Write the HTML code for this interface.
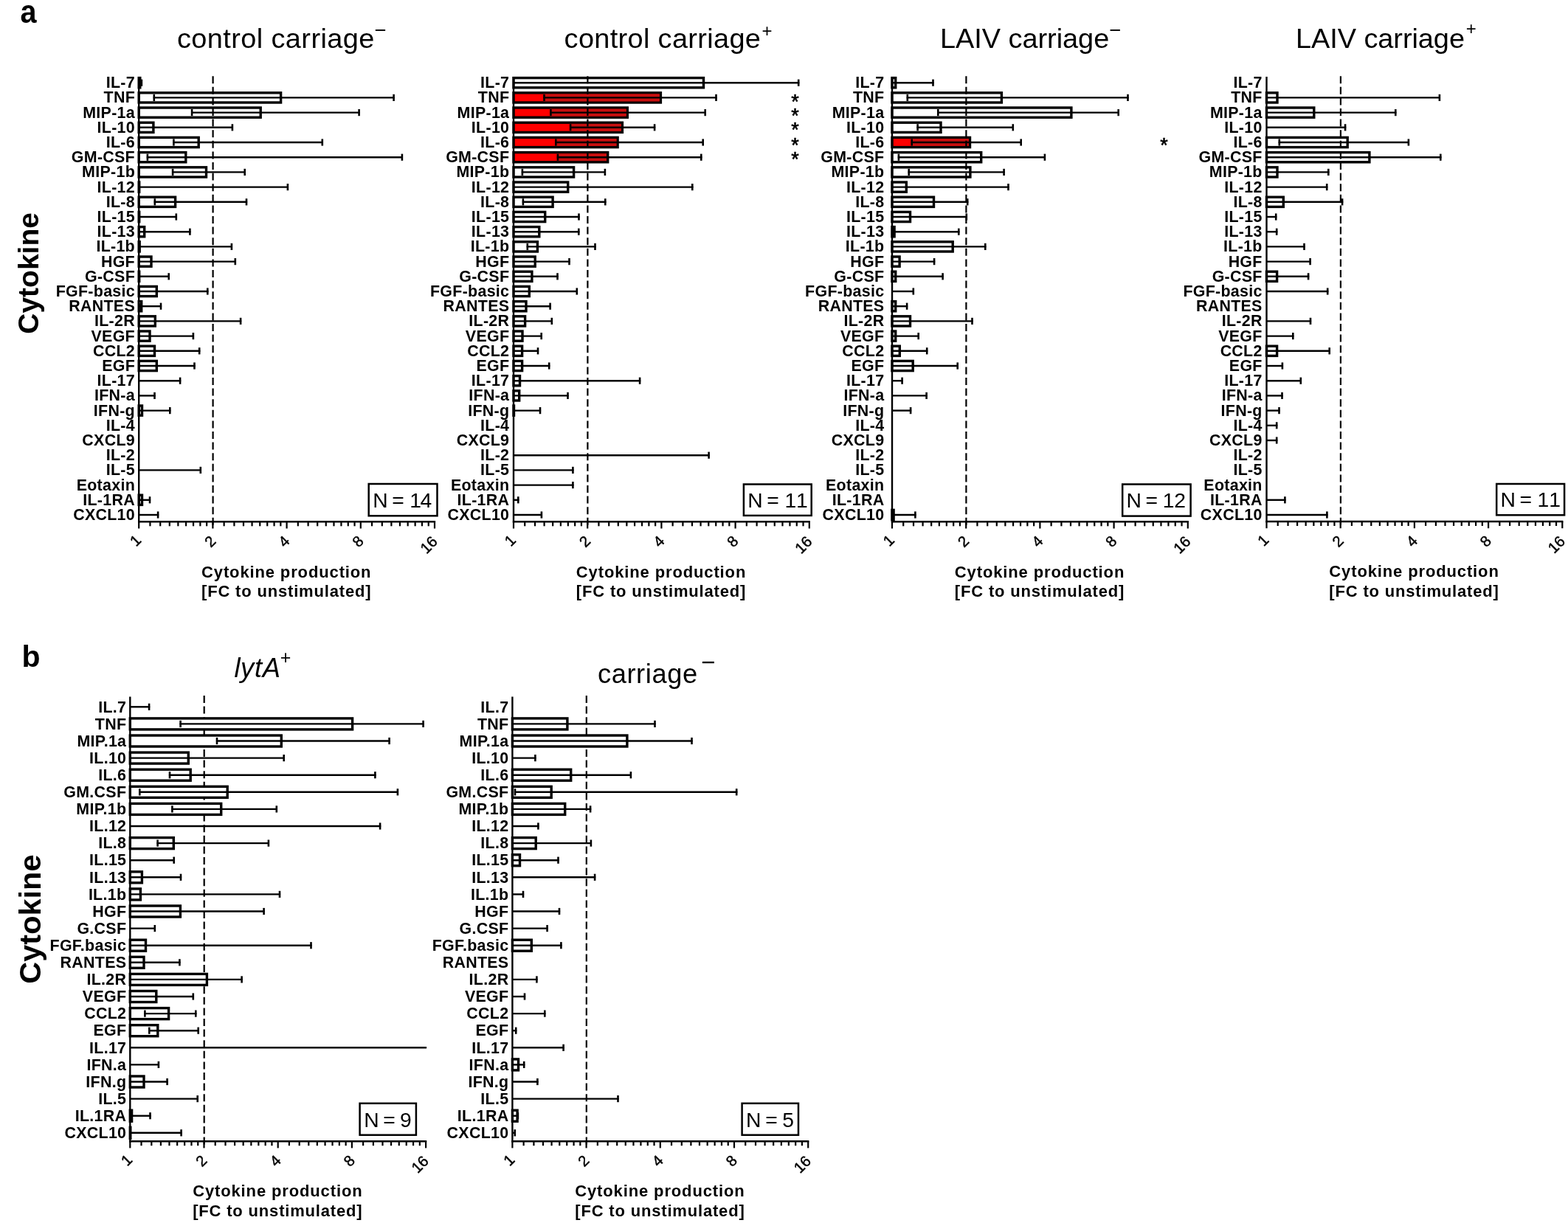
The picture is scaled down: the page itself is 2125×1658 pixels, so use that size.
<!DOCTYPE html>
<html><head><meta charset="utf-8"><title>Cytokine production figure</title>
<style>html,body{margin:0;padding:0;background:#fff;overflow:hidden;width:2125px;height:1658px}svg{display:block}</style>
</head><body>
<svg width="2125" height="1658" viewBox="0 0 2125 1658">
<style>
text{font-family:'Liberation Sans', Arial, Helvetica, sans-serif;fill:#000}
.lab{font-size:21.4px;font-weight:bold;text-anchor:end;letter-spacing:0.3px}
.tl{font-size:20.5px;text-anchor:middle;dominant-baseline:central;stroke:#000;stroke-width:0.45px}
.xt{font-size:22px;font-weight:bold;text-anchor:middle}
.nt{font-size:28.3px}
.ti{font-size:36.3px}
.sup{text-anchor:middle}
.bar{fill:#fff;stroke:#000;stroke-width:3.4}
.barr{fill:#f00;stroke:#000;stroke-width:3.4}
.wh{stroke:#000;stroke-width:2.4}
.cap{stroke:#000;stroke-width:2.6}
.ax{stroke:#000;stroke-width:2.4}
.tk{stroke:#000;stroke-width:2.2}
.dash{stroke:#000;stroke-width:2.2;stroke-dasharray:10 4.6}
.nb{fill:none;stroke:#000;stroke-width:2.5}
.ast{font-size:27px;text-anchor:middle;stroke:#000;stroke-width:0.6px}
</style>
<rect width="2125" height="1658" fill="#fff"/>
<text transform="translate(27.6 31.2) scale(0.9 1)" style="font-size:44px;font-weight:bold">a</text>
<text x="29.5" y="903.5" style="font-size:41px;font-weight:bold">b</text>
<text transform="translate(51.9 370.4) rotate(-90)" style="font-size:39px;font-weight:bold;text-anchor:middle">Cytokine</text>
<text transform="translate(55.1 1246.1) rotate(-90)" style="font-size:41.5px;font-weight:bold;text-anchor:middle">Cytokine</text>
<text transform="translate(240 64.8) scale(1.045 1)" class="ti" style="letter-spacing:0.38px">control carriage</text>
<text x="515.35" y="49.5" class="sup" style="font-size:27.5px">−</text>
<text transform="translate(764.6 64.6) scale(1.045 1)" class="ti" style="letter-spacing:0.32px">control carriage</text>
<text x="1039.6" y="50" class="sup" style="font-size:24px">+</text>
<text transform="translate(1274 64.8) scale(1.045 1)" class="ti" style="letter-spacing:-0.04px">LAIV carriage</text>
<text x="1511" y="49.5" class="sup" style="font-size:27.5px">−</text>
<text transform="translate(1755.9 64.8) scale(1.045 1)" class="ti" style="letter-spacing:-0.05px">LAIV carriage</text>
<text x="1993.7" y="47" class="sup" style="font-size:24px">+</text>
<text x="317.4" y="918.4" class="ti" style="font-style:italic;letter-spacing:0.67px">lytA</text>
<text x="387" y="900" class="sup" style="font-size:25px">+</text>
<text x="809.9" y="926.2" class="ti" style="letter-spacing:0.6px">carriage</text>
<text x="959.6" y="909.4" class="sup" style="font-size:33px">−</text>
<text x="183" y="119.1" class="lab">IL-7</text>
<text x="183" y="139.3" class="lab">TNF</text>
<text x="183" y="159.5" class="lab">MIP-1a</text>
<text x="183" y="179.7" class="lab">IL-10</text>
<text x="183" y="199.9" class="lab">IL-6</text>
<text x="183" y="220.1" class="lab">GM-CSF</text>
<text x="183" y="240.3" class="lab">MIP-1b</text>
<text x="183" y="260.5" class="lab">IL-12</text>
<text x="183" y="280.7" class="lab">IL-8</text>
<text x="183" y="300.9" class="lab">IL-15</text>
<text x="183" y="321.1" class="lab">IL-13</text>
<text x="183" y="341.3" class="lab">IL-1b</text>
<text x="183" y="361.5" class="lab">HGF</text>
<text x="183" y="381.7" class="lab">G-CSF</text>
<text x="183" y="401.9" class="lab">FGF-basic</text>
<text x="183" y="422.1" class="lab">RANTES</text>
<text x="183" y="442.3" class="lab">IL-2R</text>
<text x="183" y="462.5" class="lab">VEGF</text>
<text x="183" y="482.7" class="lab">CCL2</text>
<text x="183" y="502.9" class="lab">EGF</text>
<text x="183" y="523.1" class="lab">IL-17</text>
<text x="183" y="543.3" class="lab">IFN-a</text>
<text x="183" y="563.5" class="lab">IFN-g</text>
<text x="183" y="583.7" class="lab">IL-4</text>
<text x="183" y="603.9" class="lab">CXCL9</text>
<text x="183" y="624.1" class="lab">IL-2</text>
<text x="183" y="644.3" class="lab">IL-5</text>
<text x="183" y="664.5" class="lab">Eotaxin</text>
<text x="183" y="684.7" class="lab">IL-1RA</text>
<text x="183" y="704.9" class="lab">CXCL10</text>
<rect x="188.2" y="105.6" width="1.6" height="13.2" class="bar"/>
<line x1="188.2" y1="112.2" x2="193" y2="112.2" class="wh"/>
<line x1="191.9" y1="107.6" x2="191.9" y2="116.8" class="cap"/>
<rect x="188.2" y="125.8" width="192.4" height="13.2" class="bar"/>
<line x1="207.7" y1="132.4" x2="534.7" y2="132.4" class="wh"/>
<line x1="533.6" y1="127.8" x2="533.6" y2="137" class="cap"/>
<line x1="208.8" y1="127.8" x2="208.8" y2="137" class="cap"/>
<rect x="188.2" y="146" width="165" height="13.2" class="bar"/>
<line x1="259" y1="152.6" x2="487.7" y2="152.6" class="wh"/>
<line x1="486.6" y1="148" x2="486.6" y2="157.2" class="cap"/>
<line x1="260.1" y1="148" x2="260.1" y2="157.2" class="cap"/>
<rect x="188.2" y="166.2" width="19.7" height="13.2" class="bar"/>
<line x1="188.2" y1="172.8" x2="316" y2="172.8" class="wh"/>
<line x1="314.9" y1="168.2" x2="314.9" y2="177.4" class="cap"/>
<rect x="188.2" y="186.4" width="81" height="13.2" class="bar"/>
<line x1="234.3" y1="193" x2="437.9" y2="193" class="wh"/>
<line x1="436.8" y1="188.4" x2="436.8" y2="197.6" class="cap"/>
<line x1="235.4" y1="188.4" x2="235.4" y2="197.6" class="cap"/>
<rect x="188.2" y="206.6" width="63.6" height="13.2" class="bar"/>
<line x1="198.8" y1="213.2" x2="546" y2="213.2" class="wh"/>
<line x1="544.9" y1="208.6" x2="544.9" y2="217.8" class="cap"/>
<line x1="199.9" y1="208.6" x2="199.9" y2="217.8" class="cap"/>
<rect x="188.2" y="226.8" width="91.3" height="13.2" class="bar"/>
<line x1="233" y1="233.4" x2="332.8" y2="233.4" class="wh"/>
<line x1="331.7" y1="228.8" x2="331.7" y2="238" class="cap"/>
<line x1="234.1" y1="228.8" x2="234.1" y2="238" class="cap"/>
<rect x="188.2" y="247" width="0.5" height="13.2" class="bar"/>
<line x1="188.2" y1="253.6" x2="391" y2="253.6" class="wh"/>
<line x1="389.9" y1="249" x2="389.9" y2="258.2" class="cap"/>
<rect x="188.2" y="267.2" width="49.4" height="13.2" class="bar"/>
<line x1="208.7" y1="273.8" x2="335.1" y2="273.8" class="wh"/>
<line x1="334" y1="269.2" x2="334" y2="278.4" class="cap"/>
<line x1="209.8" y1="269.2" x2="209.8" y2="278.4" class="cap"/>
<rect x="188.2" y="287.4" width="0.5" height="13.2" class="bar"/>
<line x1="188.2" y1="294" x2="239.9" y2="294" class="wh"/>
<line x1="238.8" y1="289.4" x2="238.8" y2="298.6" class="cap"/>
<rect x="188.2" y="307.6" width="7.5" height="13.2" class="bar"/>
<line x1="188.2" y1="314.2" x2="258.5" y2="314.2" class="wh"/>
<line x1="257.4" y1="309.6" x2="257.4" y2="318.8" class="cap"/>
<rect x="188.2" y="327.8" width="1" height="13.2" class="bar"/>
<line x1="188.2" y1="334.4" x2="315" y2="334.4" class="wh"/>
<line x1="313.9" y1="329.8" x2="313.9" y2="339" class="cap"/>
<rect x="188.2" y="348" width="16.8" height="13.2" class="bar"/>
<line x1="188.2" y1="354.6" x2="319.9" y2="354.6" class="wh"/>
<line x1="318.8" y1="350" x2="318.8" y2="359.2" class="cap"/>
<rect x="188.2" y="368.2" width="0.5" height="13.2" class="bar"/>
<line x1="188.2" y1="374.8" x2="229.8" y2="374.8" class="wh"/>
<line x1="228.7" y1="370.2" x2="228.7" y2="379.4" class="cap"/>
<rect x="188.2" y="388.4" width="24.1" height="13.2" class="bar"/>
<line x1="188.2" y1="395" x2="282.4" y2="395" class="wh"/>
<line x1="281.3" y1="390.4" x2="281.3" y2="399.6" class="cap"/>
<rect x="188.2" y="408.6" width="3.5" height="13.2" class="bar"/>
<line x1="188.2" y1="415.2" x2="219.1" y2="415.2" class="wh"/>
<line x1="218" y1="410.6" x2="218" y2="419.8" class="cap"/>
<rect x="188.2" y="428.8" width="22.1" height="13.2" class="bar"/>
<line x1="188.2" y1="435.4" x2="327.2" y2="435.4" class="wh"/>
<line x1="326.1" y1="430.8" x2="326.1" y2="440" class="cap"/>
<rect x="188.2" y="449" width="14.8" height="13.2" class="bar"/>
<line x1="188.2" y1="455.6" x2="263" y2="455.6" class="wh"/>
<line x1="261.9" y1="451" x2="261.9" y2="460.2" class="cap"/>
<rect x="188.2" y="469.2" width="21.3" height="13.2" class="bar"/>
<line x1="188.2" y1="475.8" x2="271.3" y2="475.8" class="wh"/>
<line x1="270.2" y1="471.2" x2="270.2" y2="480.4" class="cap"/>
<rect x="188.2" y="489.4" width="24.1" height="13.2" class="bar"/>
<line x1="188.2" y1="496" x2="264.6" y2="496" class="wh"/>
<line x1="263.5" y1="491.4" x2="263.5" y2="500.6" class="cap"/>
<line x1="188.2" y1="516.2" x2="245.2" y2="516.2" class="wh"/>
<line x1="244.1" y1="511.6" x2="244.1" y2="520.8" class="cap"/>
<line x1="188.2" y1="536.4" x2="210.6" y2="536.4" class="wh"/>
<line x1="209.5" y1="531.8" x2="209.5" y2="541" class="cap"/>
<rect x="188.2" y="550" width="4.3" height="13.2" class="bar"/>
<line x1="188.2" y1="556.6" x2="231.4" y2="556.6" class="wh"/>
<line x1="230.3" y1="552" x2="230.3" y2="561.2" class="cap"/>
<line x1="188.2" y1="637.4" x2="272.9" y2="637.4" class="wh"/>
<line x1="271.8" y1="632.8" x2="271.8" y2="642" class="cap"/>
<rect x="188.2" y="671.2" width="4.3" height="13.2" class="bar"/>
<line x1="188.2" y1="677.8" x2="204.1" y2="677.8" class="wh"/>
<line x1="203" y1="673.2" x2="203" y2="682.4" class="cap"/>
<line x1="188.2" y1="698" x2="215.2" y2="698" class="wh"/>
<line x1="214.1" y1="693.4" x2="214.1" y2="702.6" class="cap"/>
<line x1="288.6" y1="103.2" x2="288.6" y2="711.8" class="dash"/>
<line x1="188.2" y1="104" x2="188.2" y2="708.5" class="ax"/>
<line x1="187.1" y1="707.3" x2="590.1" y2="707.3" class="ax"/>
<line x1="188.2" y1="707.3" x2="188.2" y2="716.5" class="tk"/>
<line x1="203.43" y1="707.3" x2="203.43" y2="713.3" class="tk"/>
<line x1="217.21" y1="707.3" x2="217.21" y2="713.3" class="tk"/>
<line x1="229.79" y1="707.3" x2="229.79" y2="713.3" class="tk"/>
<line x1="241.36" y1="707.3" x2="241.36" y2="713.3" class="tk"/>
<line x1="252.07" y1="707.3" x2="252.07" y2="713.3" class="tk"/>
<line x1="262.04" y1="707.3" x2="262.04" y2="713.3" class="tk"/>
<line x1="271.37" y1="707.3" x2="271.37" y2="713.3" class="tk"/>
<line x1="280.14" y1="707.3" x2="280.14" y2="713.3" class="tk"/>
<line x1="288.4" y1="707.3" x2="288.4" y2="716.5" class="tk"/>
<line x1="303.63" y1="707.3" x2="303.63" y2="713.3" class="tk"/>
<line x1="317.41" y1="707.3" x2="317.41" y2="713.3" class="tk"/>
<line x1="329.99" y1="707.3" x2="329.99" y2="713.3" class="tk"/>
<line x1="341.56" y1="707.3" x2="341.56" y2="713.3" class="tk"/>
<line x1="352.27" y1="707.3" x2="352.27" y2="713.3" class="tk"/>
<line x1="362.24" y1="707.3" x2="362.24" y2="713.3" class="tk"/>
<line x1="371.57" y1="707.3" x2="371.57" y2="713.3" class="tk"/>
<line x1="380.34" y1="707.3" x2="380.34" y2="713.3" class="tk"/>
<line x1="388.6" y1="707.3" x2="388.6" y2="716.5" class="tk"/>
<line x1="403.83" y1="707.3" x2="403.83" y2="713.3" class="tk"/>
<line x1="417.61" y1="707.3" x2="417.61" y2="713.3" class="tk"/>
<line x1="430.19" y1="707.3" x2="430.19" y2="713.3" class="tk"/>
<line x1="441.76" y1="707.3" x2="441.76" y2="713.3" class="tk"/>
<line x1="452.47" y1="707.3" x2="452.47" y2="713.3" class="tk"/>
<line x1="462.44" y1="707.3" x2="462.44" y2="713.3" class="tk"/>
<line x1="471.77" y1="707.3" x2="471.77" y2="713.3" class="tk"/>
<line x1="480.54" y1="707.3" x2="480.54" y2="713.3" class="tk"/>
<line x1="488.8" y1="707.3" x2="488.8" y2="716.5" class="tk"/>
<line x1="504.03" y1="707.3" x2="504.03" y2="713.3" class="tk"/>
<line x1="517.81" y1="707.3" x2="517.81" y2="713.3" class="tk"/>
<line x1="530.39" y1="707.3" x2="530.39" y2="713.3" class="tk"/>
<line x1="541.96" y1="707.3" x2="541.96" y2="713.3" class="tk"/>
<line x1="552.67" y1="707.3" x2="552.67" y2="713.3" class="tk"/>
<line x1="562.64" y1="707.3" x2="562.64" y2="713.3" class="tk"/>
<line x1="571.97" y1="707.3" x2="571.97" y2="713.3" class="tk"/>
<line x1="580.74" y1="707.3" x2="580.74" y2="713.3" class="tk"/>
<line x1="589" y1="707.3" x2="589" y2="716.5" class="tk"/>
<text transform="translate(183.2 732.5) rotate(-45)" class="tl">1</text>
<text transform="translate(284.4 733.6) rotate(-45)" class="tl">2</text>
<text transform="translate(384.6 733.6) rotate(-45)" class="tl">4</text>
<text transform="translate(484.8 733.6) rotate(-45)" class="tl">8</text>
<text transform="translate(580.7 738.3) rotate(-45)" class="tl">16</text>
<rect x="499.7" y="656" width="92.8" height="43.3" class="nb"/>
<text x="505.35 513.35 531.3 539.3 555.3 569.45" y="687.7" class="nt">N = 14</text>
<text x="387.8" y="782.5" class="xt" textLength="229.5" lengthAdjust="spacing">Cytokine production</text>
<text x="387.8" y="808.8" class="xt" textLength="229.5" lengthAdjust="spacing">[FC to unstimulated]</text>
<text x="690.3" y="119.1" class="lab">IL-7</text>
<text x="690.3" y="139.3" class="lab">TNF</text>
<text x="690.3" y="159.5" class="lab">MIP-1a</text>
<text x="690.3" y="179.7" class="lab">IL-10</text>
<text x="690.3" y="199.9" class="lab">IL-6</text>
<text x="690.3" y="220.1" class="lab">GM-CSF</text>
<text x="690.3" y="240.3" class="lab">MIP-1b</text>
<text x="690.3" y="260.5" class="lab">IL-12</text>
<text x="690.3" y="280.7" class="lab">IL-8</text>
<text x="690.3" y="300.9" class="lab">IL-15</text>
<text x="690.3" y="321.1" class="lab">IL-13</text>
<text x="690.3" y="341.3" class="lab">IL-1b</text>
<text x="690.3" y="361.5" class="lab">HGF</text>
<text x="690.3" y="381.7" class="lab">G-CSF</text>
<text x="690.3" y="401.9" class="lab">FGF-basic</text>
<text x="690.3" y="422.1" class="lab">RANTES</text>
<text x="690.3" y="442.3" class="lab">IL-2R</text>
<text x="690.3" y="462.5" class="lab">VEGF</text>
<text x="690.3" y="482.7" class="lab">CCL2</text>
<text x="690.3" y="502.9" class="lab">EGF</text>
<text x="690.3" y="523.1" class="lab">IL-17</text>
<text x="690.3" y="543.3" class="lab">IFN-a</text>
<text x="690.3" y="563.5" class="lab">IFN-g</text>
<text x="690.3" y="583.7" class="lab">IL-4</text>
<text x="690.3" y="603.9" class="lab">CXCL9</text>
<text x="690.3" y="624.1" class="lab">IL-2</text>
<text x="690.3" y="644.3" class="lab">IL-5</text>
<text x="690.3" y="664.5" class="lab">Eotaxin</text>
<text x="690.3" y="684.7" class="lab">IL-1RA</text>
<text x="690.3" y="704.9" class="lab">CXCL10</text>
<rect x="696" y="105.6" width="257.5" height="13.2" class="bar"/>
<line x1="696" y1="112.2" x2="1083.3" y2="112.2" class="wh"/>
<line x1="1082.2" y1="107.6" x2="1082.2" y2="116.8" class="cap"/>
<rect x="696" y="125.8" width="199.4" height="13.2" class="barr"/>
<rect x="736.4" y="127.5" width="157.3" height="9.8" fill="#c81010"/>
<line x1="736.4" y1="132.4" x2="971.6" y2="132.4" class="wh"/>
<line x1="970.5" y1="127.8" x2="970.5" y2="137" class="cap"/>
<line x1="737.5" y1="127.8" x2="737.5" y2="137" class="cap"/>
<rect x="696" y="146" width="154.3" height="13.2" class="barr"/>
<rect x="745.3" y="147.7" width="103.3" height="9.8" fill="#c81010"/>
<line x1="745.3" y1="152.6" x2="956.8" y2="152.6" class="wh"/>
<line x1="955.7" y1="148" x2="955.7" y2="157.2" class="cap"/>
<line x1="746.4" y1="148" x2="746.4" y2="157.2" class="cap"/>
<rect x="696" y="166.2" width="147.4" height="13.2" class="barr"/>
<rect x="772" y="167.9" width="69.7" height="9.8" fill="#c81010"/>
<line x1="772" y1="172.8" x2="888.2" y2="172.8" class="wh"/>
<line x1="887.1" y1="168.2" x2="887.1" y2="177.4" class="cap"/>
<line x1="773.1" y1="168.2" x2="773.1" y2="177.4" class="cap"/>
<rect x="696" y="186.4" width="141.1" height="13.2" class="barr"/>
<rect x="752.2" y="188.1" width="83.2" height="9.8" fill="#c81010"/>
<line x1="752.2" y1="193" x2="953.8" y2="193" class="wh"/>
<line x1="952.7" y1="188.4" x2="952.7" y2="197.6" class="cap"/>
<line x1="753.3" y1="188.4" x2="753.3" y2="197.6" class="cap"/>
<rect x="696" y="206.6" width="127.7" height="13.2" class="barr"/>
<rect x="754.8" y="208.3" width="67.2" height="9.8" fill="#c81010"/>
<line x1="754.8" y1="213.2" x2="951.4" y2="213.2" class="wh"/>
<line x1="950.3" y1="208.6" x2="950.3" y2="217.8" class="cap"/>
<line x1="755.9" y1="208.6" x2="755.9" y2="217.8" class="cap"/>
<rect x="696" y="226.8" width="81.6" height="13.2" class="bar"/>
<line x1="706.8" y1="233.4" x2="821" y2="233.4" class="wh"/>
<line x1="819.9" y1="228.8" x2="819.9" y2="238" class="cap"/>
<line x1="707.9" y1="228.8" x2="707.9" y2="238" class="cap"/>
<rect x="696" y="247" width="73.7" height="13.2" class="bar"/>
<line x1="696" y1="253.6" x2="939.4" y2="253.6" class="wh"/>
<line x1="938.3" y1="249" x2="938.3" y2="258.2" class="cap"/>
<rect x="696" y="267.2" width="53.1" height="13.2" class="bar"/>
<line x1="707.8" y1="273.8" x2="821.4" y2="273.8" class="wh"/>
<line x1="820.3" y1="269.2" x2="820.3" y2="278.4" class="cap"/>
<line x1="708.9" y1="269.2" x2="708.9" y2="278.4" class="cap"/>
<rect x="696" y="287.4" width="42.7" height="13.2" class="bar"/>
<line x1="696" y1="294" x2="785.6" y2="294" class="wh"/>
<line x1="784.5" y1="289.4" x2="784.5" y2="298.6" class="cap"/>
<rect x="696" y="307.6" width="34.8" height="13.2" class="bar"/>
<line x1="696" y1="314.2" x2="785.4" y2="314.2" class="wh"/>
<line x1="784.3" y1="309.6" x2="784.3" y2="318.8" class="cap"/>
<rect x="696" y="327.8" width="32.4" height="13.2" class="bar"/>
<line x1="713.7" y1="334.4" x2="807.6" y2="334.4" class="wh"/>
<line x1="806.5" y1="329.8" x2="806.5" y2="339" class="cap"/>
<line x1="714.8" y1="329.8" x2="714.8" y2="339" class="cap"/>
<rect x="696" y="348" width="29.2" height="13.2" class="bar"/>
<line x1="696" y1="354.6" x2="772.6" y2="354.6" class="wh"/>
<line x1="771.5" y1="350" x2="771.5" y2="359.2" class="cap"/>
<rect x="696" y="368.2" width="24.9" height="13.2" class="bar"/>
<line x1="696" y1="374.8" x2="756.6" y2="374.8" class="wh"/>
<line x1="755.5" y1="370.2" x2="755.5" y2="379.4" class="cap"/>
<rect x="696" y="388.4" width="21.3" height="13.2" class="bar"/>
<line x1="696" y1="395" x2="782.9" y2="395" class="wh"/>
<line x1="781.8" y1="390.4" x2="781.8" y2="399.6" class="cap"/>
<rect x="696" y="408.6" width="17" height="13.2" class="bar"/>
<line x1="696" y1="415.2" x2="746.7" y2="415.2" class="wh"/>
<line x1="745.6" y1="410.6" x2="745.6" y2="419.8" class="cap"/>
<rect x="696" y="428.8" width="15.6" height="13.2" class="bar"/>
<line x1="696" y1="435.4" x2="748.9" y2="435.4" class="wh"/>
<line x1="747.8" y1="430.8" x2="747.8" y2="440" class="cap"/>
<rect x="696" y="449" width="12" height="13.2" class="bar"/>
<line x1="696" y1="455.6" x2="734.8" y2="455.6" class="wh"/>
<line x1="733.7" y1="451" x2="733.7" y2="460.2" class="cap"/>
<rect x="696" y="469.2" width="11.6" height="13.2" class="bar"/>
<line x1="696" y1="475.8" x2="730.1" y2="475.8" class="wh"/>
<line x1="729" y1="471.2" x2="729" y2="480.4" class="cap"/>
<rect x="696" y="489.4" width="11.6" height="13.2" class="bar"/>
<line x1="696" y1="496" x2="745.3" y2="496" class="wh"/>
<line x1="744.2" y1="491.4" x2="744.2" y2="500.6" class="cap"/>
<rect x="696" y="509.6" width="8.5" height="13.2" class="bar"/>
<line x1="696" y1="516.2" x2="868.2" y2="516.2" class="wh"/>
<line x1="867.1" y1="511.6" x2="867.1" y2="520.8" class="cap"/>
<rect x="696" y="529.8" width="7.7" height="13.2" class="bar"/>
<line x1="696" y1="536.4" x2="770.6" y2="536.4" class="wh"/>
<line x1="769.5" y1="531.8" x2="769.5" y2="541" class="cap"/>
<rect x="696" y="550" width="0.5" height="13.2" class="bar"/>
<line x1="696" y1="556.6" x2="733.1" y2="556.6" class="wh"/>
<line x1="732" y1="552" x2="732" y2="561.2" class="cap"/>
<line x1="696" y1="617.2" x2="961.7" y2="617.2" class="wh"/>
<line x1="960.6" y1="612.6" x2="960.6" y2="621.8" class="cap"/>
<line x1="696" y1="637.4" x2="777.5" y2="637.4" class="wh"/>
<line x1="776.4" y1="632.8" x2="776.4" y2="642" class="cap"/>
<line x1="696" y1="657.6" x2="777.5" y2="657.6" class="wh"/>
<line x1="776.4" y1="653" x2="776.4" y2="662.2" class="cap"/>
<line x1="696" y1="677.8" x2="703.4" y2="677.8" class="wh"/>
<line x1="702.3" y1="673.2" x2="702.3" y2="682.4" class="cap"/>
<line x1="696" y1="698" x2="735" y2="698" class="wh"/>
<line x1="733.9" y1="693.4" x2="733.9" y2="702.6" class="cap"/>
<line x1="796.4" y1="103.2" x2="796.4" y2="711.8" class="dash"/>
<line x1="696" y1="104" x2="696" y2="708.5" class="ax"/>
<line x1="694.9" y1="707.3" x2="1097.9" y2="707.3" class="ax"/>
<line x1="696" y1="707.3" x2="696" y2="716.5" class="tk"/>
<line x1="711.23" y1="707.3" x2="711.23" y2="713.3" class="tk"/>
<line x1="725.01" y1="707.3" x2="725.01" y2="713.3" class="tk"/>
<line x1="737.59" y1="707.3" x2="737.59" y2="713.3" class="tk"/>
<line x1="749.16" y1="707.3" x2="749.16" y2="713.3" class="tk"/>
<line x1="759.87" y1="707.3" x2="759.87" y2="713.3" class="tk"/>
<line x1="769.84" y1="707.3" x2="769.84" y2="713.3" class="tk"/>
<line x1="779.17" y1="707.3" x2="779.17" y2="713.3" class="tk"/>
<line x1="787.94" y1="707.3" x2="787.94" y2="713.3" class="tk"/>
<line x1="796.2" y1="707.3" x2="796.2" y2="716.5" class="tk"/>
<line x1="811.43" y1="707.3" x2="811.43" y2="713.3" class="tk"/>
<line x1="825.21" y1="707.3" x2="825.21" y2="713.3" class="tk"/>
<line x1="837.79" y1="707.3" x2="837.79" y2="713.3" class="tk"/>
<line x1="849.36" y1="707.3" x2="849.36" y2="713.3" class="tk"/>
<line x1="860.07" y1="707.3" x2="860.07" y2="713.3" class="tk"/>
<line x1="870.04" y1="707.3" x2="870.04" y2="713.3" class="tk"/>
<line x1="879.37" y1="707.3" x2="879.37" y2="713.3" class="tk"/>
<line x1="888.14" y1="707.3" x2="888.14" y2="713.3" class="tk"/>
<line x1="896.4" y1="707.3" x2="896.4" y2="716.5" class="tk"/>
<line x1="911.63" y1="707.3" x2="911.63" y2="713.3" class="tk"/>
<line x1="925.41" y1="707.3" x2="925.41" y2="713.3" class="tk"/>
<line x1="937.99" y1="707.3" x2="937.99" y2="713.3" class="tk"/>
<line x1="949.56" y1="707.3" x2="949.56" y2="713.3" class="tk"/>
<line x1="960.27" y1="707.3" x2="960.27" y2="713.3" class="tk"/>
<line x1="970.24" y1="707.3" x2="970.24" y2="713.3" class="tk"/>
<line x1="979.57" y1="707.3" x2="979.57" y2="713.3" class="tk"/>
<line x1="988.34" y1="707.3" x2="988.34" y2="713.3" class="tk"/>
<line x1="996.6" y1="707.3" x2="996.6" y2="716.5" class="tk"/>
<line x1="1011.83" y1="707.3" x2="1011.83" y2="713.3" class="tk"/>
<line x1="1025.61" y1="707.3" x2="1025.61" y2="713.3" class="tk"/>
<line x1="1038.19" y1="707.3" x2="1038.19" y2="713.3" class="tk"/>
<line x1="1049.76" y1="707.3" x2="1049.76" y2="713.3" class="tk"/>
<line x1="1060.47" y1="707.3" x2="1060.47" y2="713.3" class="tk"/>
<line x1="1070.44" y1="707.3" x2="1070.44" y2="713.3" class="tk"/>
<line x1="1079.77" y1="707.3" x2="1079.77" y2="713.3" class="tk"/>
<line x1="1088.54" y1="707.3" x2="1088.54" y2="713.3" class="tk"/>
<line x1="1096.8" y1="707.3" x2="1096.8" y2="716.5" class="tk"/>
<text transform="translate(691 732.5) rotate(-45)" class="tl">1</text>
<text transform="translate(792.2 733.6) rotate(-45)" class="tl">2</text>
<text transform="translate(892.4 733.6) rotate(-45)" class="tl">4</text>
<text transform="translate(992.6 733.6) rotate(-45)" class="tl">8</text>
<text transform="translate(1088.5 738.3) rotate(-45)" class="tl">16</text>
<rect x="1007.9" y="656.5" width="91.8" height="42.4" class="nb"/>
<text x="1013.25 1021.25 1039.3 1047.3 1063.5 1079.1" y="687.7" class="nt">N = 11</text>
<text x="895.6" y="782.5" class="xt" textLength="229.5" lengthAdjust="spacing">Cytokine production</text>
<text x="895.6" y="808.8" class="xt" textLength="229.5" lengthAdjust="spacing">[FC to unstimulated]</text>
<text x="1198.4" y="119.1" class="lab">IL-7</text>
<text x="1198.4" y="139.3" class="lab">TNF</text>
<text x="1198.4" y="159.5" class="lab">MIP-1a</text>
<text x="1198.4" y="179.7" class="lab">IL-10</text>
<text x="1198.4" y="199.9" class="lab">IL-6</text>
<text x="1198.4" y="220.1" class="lab">GM-CSF</text>
<text x="1198.4" y="240.3" class="lab">MIP-1b</text>
<text x="1198.4" y="260.5" class="lab">IL-12</text>
<text x="1198.4" y="280.7" class="lab">IL-8</text>
<text x="1198.4" y="300.9" class="lab">IL-15</text>
<text x="1198.4" y="321.1" class="lab">IL-13</text>
<text x="1198.4" y="341.3" class="lab">IL-1b</text>
<text x="1198.4" y="361.5" class="lab">HGF</text>
<text x="1198.4" y="381.7" class="lab">G-CSF</text>
<text x="1198.4" y="401.9" class="lab">FGF-basic</text>
<text x="1198.4" y="422.1" class="lab">RANTES</text>
<text x="1198.4" y="442.3" class="lab">IL-2R</text>
<text x="1198.4" y="462.5" class="lab">VEGF</text>
<text x="1198.4" y="482.7" class="lab">CCL2</text>
<text x="1198.4" y="502.9" class="lab">EGF</text>
<text x="1198.4" y="523.1" class="lab">IL-17</text>
<text x="1198.4" y="543.3" class="lab">IFN-a</text>
<text x="1198.4" y="563.5" class="lab">IFN-g</text>
<text x="1198.4" y="583.7" class="lab">IL-4</text>
<text x="1198.4" y="603.9" class="lab">CXCL9</text>
<text x="1198.4" y="624.1" class="lab">IL-2</text>
<text x="1198.4" y="644.3" class="lab">IL-5</text>
<text x="1198.4" y="664.5" class="lab">Eotaxin</text>
<text x="1198.4" y="684.7" class="lab">IL-1RA</text>
<text x="1198.4" y="704.9" class="lab">CXCL10</text>
<rect x="1209" y="105.6" width="4.7" height="13.2" class="bar"/>
<line x1="1209" y1="112.2" x2="1265.6" y2="112.2" class="wh"/>
<line x1="1264.5" y1="107.6" x2="1264.5" y2="116.8" class="cap"/>
<rect x="1209" y="125.8" width="148.4" height="13.2" class="bar"/>
<line x1="1228.7" y1="132.4" x2="1529.6" y2="132.4" class="wh"/>
<line x1="1528.5" y1="127.8" x2="1528.5" y2="137" class="cap"/>
<line x1="1229.8" y1="127.8" x2="1229.8" y2="137" class="cap"/>
<rect x="1209" y="146" width="242.9" height="13.2" class="bar"/>
<line x1="1270.2" y1="152.6" x2="1516.8" y2="152.6" class="wh"/>
<line x1="1515.7" y1="148" x2="1515.7" y2="157.2" class="cap"/>
<line x1="1271.3" y1="148" x2="1271.3" y2="157.2" class="cap"/>
<rect x="1209" y="166.2" width="66" height="13.2" class="bar"/>
<line x1="1242.5" y1="172.8" x2="1373.9" y2="172.8" class="wh"/>
<line x1="1372.8" y1="168.2" x2="1372.8" y2="177.4" class="cap"/>
<line x1="1243.6" y1="168.2" x2="1243.6" y2="177.4" class="cap"/>
<rect x="1209" y="186.4" width="105.5" height="13.2" class="barr"/>
<rect x="1234.6" y="188.1" width="78.2" height="9.8" fill="#c81010"/>
<line x1="1234.6" y1="193" x2="1384.8" y2="193" class="wh"/>
<line x1="1383.7" y1="188.4" x2="1383.7" y2="197.6" class="cap"/>
<line x1="1235.7" y1="188.4" x2="1235.7" y2="197.6" class="cap"/>
<rect x="1209" y="206.6" width="120.7" height="13.2" class="bar"/>
<line x1="1216.8" y1="213.2" x2="1417" y2="213.2" class="wh"/>
<line x1="1415.9" y1="208.6" x2="1415.9" y2="217.8" class="cap"/>
<line x1="1217.9" y1="208.6" x2="1217.9" y2="217.8" class="cap"/>
<rect x="1209" y="226.8" width="105.9" height="13.2" class="bar"/>
<line x1="1230.6" y1="233.4" x2="1361.7" y2="233.4" class="wh"/>
<line x1="1360.6" y1="228.8" x2="1360.6" y2="238" class="cap"/>
<line x1="1231.7" y1="228.8" x2="1231.7" y2="238" class="cap"/>
<rect x="1209" y="247" width="19.3" height="13.2" class="bar"/>
<line x1="1209" y1="253.6" x2="1367.6" y2="253.6" class="wh"/>
<line x1="1366.5" y1="249" x2="1366.5" y2="258.2" class="cap"/>
<rect x="1209" y="267.2" width="56.5" height="13.2" class="bar"/>
<line x1="1209" y1="273.8" x2="1312.3" y2="273.8" class="wh"/>
<line x1="1311.2" y1="269.2" x2="1311.2" y2="278.4" class="cap"/>
<rect x="1209" y="287.4" width="24.5" height="13.2" class="bar"/>
<line x1="1209" y1="294" x2="1310.9" y2="294" class="wh"/>
<line x1="1309.8" y1="289.4" x2="1309.8" y2="298.6" class="cap"/>
<rect x="1209" y="307.6" width="3.1" height="13.2" class="bar"/>
<line x1="1209" y1="314.2" x2="1300.4" y2="314.2" class="wh"/>
<line x1="1299.3" y1="309.6" x2="1299.3" y2="318.8" class="cap"/>
<rect x="1209" y="327.8" width="82.2" height="13.2" class="bar"/>
<line x1="1209" y1="334.4" x2="1336.4" y2="334.4" class="wh"/>
<line x1="1335.3" y1="329.8" x2="1335.3" y2="339" class="cap"/>
<rect x="1209" y="348" width="10.1" height="13.2" class="bar"/>
<line x1="1209" y1="354.6" x2="1267.2" y2="354.6" class="wh"/>
<line x1="1266.1" y1="350" x2="1266.1" y2="359.2" class="cap"/>
<rect x="1209" y="368.2" width="4.7" height="13.2" class="bar"/>
<line x1="1209" y1="374.8" x2="1278.7" y2="374.8" class="wh"/>
<line x1="1277.6" y1="370.2" x2="1277.6" y2="379.4" class="cap"/>
<line x1="1209" y1="395" x2="1238.9" y2="395" class="wh"/>
<line x1="1237.8" y1="390.4" x2="1237.8" y2="399.6" class="cap"/>
<rect x="1209" y="408.6" width="4.7" height="13.2" class="bar"/>
<line x1="1209" y1="415.2" x2="1230.2" y2="415.2" class="wh"/>
<line x1="1229.1" y1="410.6" x2="1229.1" y2="419.8" class="cap"/>
<rect x="1209" y="428.8" width="24.5" height="13.2" class="bar"/>
<line x1="1209" y1="435.4" x2="1318.6" y2="435.4" class="wh"/>
<line x1="1317.5" y1="430.8" x2="1317.5" y2="440" class="cap"/>
<rect x="1209" y="449" width="4.7" height="13.2" class="bar"/>
<line x1="1209" y1="455.6" x2="1245.8" y2="455.6" class="wh"/>
<line x1="1244.7" y1="451" x2="1244.7" y2="460.2" class="cap"/>
<rect x="1209" y="469.2" width="10.3" height="13.2" class="bar"/>
<line x1="1209" y1="475.8" x2="1257.3" y2="475.8" class="wh"/>
<line x1="1256.2" y1="471.2" x2="1256.2" y2="480.4" class="cap"/>
<rect x="1209" y="489.4" width="28.2" height="13.2" class="bar"/>
<line x1="1209" y1="496" x2="1298.8" y2="496" class="wh"/>
<line x1="1297.7" y1="491.4" x2="1297.7" y2="500.6" class="cap"/>
<line x1="1209" y1="516.2" x2="1223.7" y2="516.2" class="wh"/>
<line x1="1222.6" y1="511.6" x2="1222.6" y2="520.8" class="cap"/>
<line x1="1209" y1="536.4" x2="1256.7" y2="536.4" class="wh"/>
<line x1="1255.6" y1="531.8" x2="1255.6" y2="541" class="cap"/>
<line x1="1209" y1="556.6" x2="1235.2" y2="556.6" class="wh"/>
<line x1="1234.1" y1="552" x2="1234.1" y2="561.2" class="cap"/>
<rect x="1209" y="691.4" width="2.1" height="13.2" class="bar"/>
<line x1="1209" y1="698" x2="1241.5" y2="698" class="wh"/>
<line x1="1240.4" y1="693.4" x2="1240.4" y2="702.6" class="cap"/>
<line x1="1309.4" y1="103.2" x2="1309.4" y2="711.8" class="dash"/>
<line x1="1209" y1="104" x2="1209" y2="708.5" class="ax"/>
<line x1="1207.9" y1="707.3" x2="1610.9" y2="707.3" class="ax"/>
<line x1="1209" y1="707.3" x2="1209" y2="716.5" class="tk"/>
<line x1="1224.23" y1="707.3" x2="1224.23" y2="713.3" class="tk"/>
<line x1="1238.01" y1="707.3" x2="1238.01" y2="713.3" class="tk"/>
<line x1="1250.59" y1="707.3" x2="1250.59" y2="713.3" class="tk"/>
<line x1="1262.16" y1="707.3" x2="1262.16" y2="713.3" class="tk"/>
<line x1="1272.87" y1="707.3" x2="1272.87" y2="713.3" class="tk"/>
<line x1="1282.84" y1="707.3" x2="1282.84" y2="713.3" class="tk"/>
<line x1="1292.17" y1="707.3" x2="1292.17" y2="713.3" class="tk"/>
<line x1="1300.94" y1="707.3" x2="1300.94" y2="713.3" class="tk"/>
<line x1="1309.2" y1="707.3" x2="1309.2" y2="716.5" class="tk"/>
<line x1="1324.43" y1="707.3" x2="1324.43" y2="713.3" class="tk"/>
<line x1="1338.21" y1="707.3" x2="1338.21" y2="713.3" class="tk"/>
<line x1="1350.79" y1="707.3" x2="1350.79" y2="713.3" class="tk"/>
<line x1="1362.36" y1="707.3" x2="1362.36" y2="713.3" class="tk"/>
<line x1="1373.07" y1="707.3" x2="1373.07" y2="713.3" class="tk"/>
<line x1="1383.04" y1="707.3" x2="1383.04" y2="713.3" class="tk"/>
<line x1="1392.37" y1="707.3" x2="1392.37" y2="713.3" class="tk"/>
<line x1="1401.14" y1="707.3" x2="1401.14" y2="713.3" class="tk"/>
<line x1="1409.4" y1="707.3" x2="1409.4" y2="716.5" class="tk"/>
<line x1="1424.63" y1="707.3" x2="1424.63" y2="713.3" class="tk"/>
<line x1="1438.41" y1="707.3" x2="1438.41" y2="713.3" class="tk"/>
<line x1="1450.99" y1="707.3" x2="1450.99" y2="713.3" class="tk"/>
<line x1="1462.56" y1="707.3" x2="1462.56" y2="713.3" class="tk"/>
<line x1="1473.27" y1="707.3" x2="1473.27" y2="713.3" class="tk"/>
<line x1="1483.24" y1="707.3" x2="1483.24" y2="713.3" class="tk"/>
<line x1="1492.57" y1="707.3" x2="1492.57" y2="713.3" class="tk"/>
<line x1="1501.34" y1="707.3" x2="1501.34" y2="713.3" class="tk"/>
<line x1="1509.6" y1="707.3" x2="1509.6" y2="716.5" class="tk"/>
<line x1="1524.83" y1="707.3" x2="1524.83" y2="713.3" class="tk"/>
<line x1="1538.61" y1="707.3" x2="1538.61" y2="713.3" class="tk"/>
<line x1="1551.19" y1="707.3" x2="1551.19" y2="713.3" class="tk"/>
<line x1="1562.76" y1="707.3" x2="1562.76" y2="713.3" class="tk"/>
<line x1="1573.47" y1="707.3" x2="1573.47" y2="713.3" class="tk"/>
<line x1="1583.44" y1="707.3" x2="1583.44" y2="713.3" class="tk"/>
<line x1="1592.77" y1="707.3" x2="1592.77" y2="713.3" class="tk"/>
<line x1="1601.54" y1="707.3" x2="1601.54" y2="713.3" class="tk"/>
<line x1="1609.8" y1="707.3" x2="1609.8" y2="716.5" class="tk"/>
<text transform="translate(1204 732.5) rotate(-45)" class="tl">1</text>
<text transform="translate(1305.2 733.6) rotate(-45)" class="tl">2</text>
<text transform="translate(1405.4 733.6) rotate(-45)" class="tl">4</text>
<text transform="translate(1505.6 733.6) rotate(-45)" class="tl">8</text>
<text transform="translate(1601.5 738.3) rotate(-45)" class="tl">16</text>
<rect x="1521.2" y="656.5" width="92.4" height="43.1" class="nb"/>
<text x="1526.45 1534.45 1552.5 1560.5 1575.8 1591.3" y="687.7" class="nt">N = 12</text>
<text x="1408.6" y="782.5" class="xt" textLength="229.5" lengthAdjust="spacing">Cytokine production</text>
<text x="1408.6" y="808.8" class="xt" textLength="229.5" lengthAdjust="spacing">[FC to unstimulated]</text>
<text x="1710.7" y="119.1" class="lab">IL-7</text>
<text x="1710.7" y="139.3" class="lab">TNF</text>
<text x="1710.7" y="159.5" class="lab">MIP-1a</text>
<text x="1710.7" y="179.7" class="lab">IL-10</text>
<text x="1710.7" y="199.9" class="lab">IL-6</text>
<text x="1710.7" y="220.1" class="lab">GM-CSF</text>
<text x="1710.7" y="240.3" class="lab">MIP-1b</text>
<text x="1710.7" y="260.5" class="lab">IL-12</text>
<text x="1710.7" y="280.7" class="lab">IL-8</text>
<text x="1710.7" y="300.9" class="lab">IL-15</text>
<text x="1710.7" y="321.1" class="lab">IL-13</text>
<text x="1710.7" y="341.3" class="lab">IL-1b</text>
<text x="1710.7" y="361.5" class="lab">HGF</text>
<text x="1710.7" y="381.7" class="lab">G-CSF</text>
<text x="1710.7" y="401.9" class="lab">FGF-basic</text>
<text x="1710.7" y="422.1" class="lab">RANTES</text>
<text x="1710.7" y="442.3" class="lab">IL-2R</text>
<text x="1710.7" y="462.5" class="lab">VEGF</text>
<text x="1710.7" y="482.7" class="lab">CCL2</text>
<text x="1710.7" y="502.9" class="lab">EGF</text>
<text x="1710.7" y="523.1" class="lab">IL-17</text>
<text x="1710.7" y="543.3" class="lab">IFN-a</text>
<text x="1710.7" y="563.5" class="lab">IFN-g</text>
<text x="1710.7" y="583.7" class="lab">IL-4</text>
<text x="1710.7" y="603.9" class="lab">CXCL9</text>
<text x="1710.7" y="624.1" class="lab">IL-2</text>
<text x="1710.7" y="644.3" class="lab">IL-5</text>
<text x="1710.7" y="664.5" class="lab">Eotaxin</text>
<text x="1710.7" y="684.7" class="lab">IL-1RA</text>
<text x="1710.7" y="704.9" class="lab">CXCL10</text>
<rect x="1716.5" y="125.8" width="14.5" height="13.2" class="bar"/>
<line x1="1716.5" y1="132.4" x2="1952" y2="132.4" class="wh"/>
<line x1="1950.9" y1="127.8" x2="1950.9" y2="137" class="cap"/>
<rect x="1716.5" y="146" width="64.3" height="13.2" class="bar"/>
<line x1="1716.5" y1="152.6" x2="1892.4" y2="152.6" class="wh"/>
<line x1="1891.3" y1="148" x2="1891.3" y2="157.2" class="cap"/>
<line x1="1716.5" y1="172.8" x2="1824.2" y2="172.8" class="wh"/>
<line x1="1823.1" y1="168.2" x2="1823.1" y2="177.4" class="cap"/>
<rect x="1716.5" y="186.4" width="109.7" height="13.2" class="bar"/>
<line x1="1732.7" y1="193" x2="1910" y2="193" class="wh"/>
<line x1="1908.9" y1="188.4" x2="1908.9" y2="197.6" class="cap"/>
<line x1="1733.8" y1="188.4" x2="1733.8" y2="197.6" class="cap"/>
<rect x="1716.5" y="206.6" width="139.4" height="13.2" class="bar"/>
<line x1="1716.5" y1="213.2" x2="1953.4" y2="213.2" class="wh"/>
<line x1="1952.3" y1="208.6" x2="1952.3" y2="217.8" class="cap"/>
<rect x="1716.5" y="226.8" width="14.5" height="13.2" class="bar"/>
<line x1="1716.5" y1="233.4" x2="1801.4" y2="233.4" class="wh"/>
<line x1="1800.3" y1="228.8" x2="1800.3" y2="238" class="cap"/>
<line x1="1716.5" y1="253.6" x2="1799.3" y2="253.6" class="wh"/>
<line x1="1798.2" y1="249" x2="1798.2" y2="258.2" class="cap"/>
<rect x="1716.5" y="267.2" width="22.8" height="13.2" class="bar"/>
<line x1="1716.5" y1="273.8" x2="1820.2" y2="273.8" class="wh"/>
<line x1="1819.1" y1="269.2" x2="1819.1" y2="278.4" class="cap"/>
<line x1="1716.5" y1="294" x2="1730.3" y2="294" class="wh"/>
<line x1="1729.2" y1="289.4" x2="1729.2" y2="298.6" class="cap"/>
<line x1="1716.5" y1="314.2" x2="1731.3" y2="314.2" class="wh"/>
<line x1="1730.2" y1="309.6" x2="1730.2" y2="318.8" class="cap"/>
<line x1="1716.5" y1="334.4" x2="1768.6" y2="334.4" class="wh"/>
<line x1="1767.5" y1="329.8" x2="1767.5" y2="339" class="cap"/>
<line x1="1716.5" y1="354.6" x2="1776.7" y2="354.6" class="wh"/>
<line x1="1775.6" y1="350" x2="1775.6" y2="359.2" class="cap"/>
<rect x="1716.5" y="368.2" width="14.1" height="13.2" class="bar"/>
<line x1="1716.5" y1="374.8" x2="1774.2" y2="374.8" class="wh"/>
<line x1="1773.1" y1="370.2" x2="1773.1" y2="379.4" class="cap"/>
<line x1="1716.5" y1="395" x2="1800.3" y2="395" class="wh"/>
<line x1="1799.2" y1="390.4" x2="1799.2" y2="399.6" class="cap"/>
<line x1="1716.5" y1="435.4" x2="1777.1" y2="435.4" class="wh"/>
<line x1="1776" y1="430.8" x2="1776" y2="440" class="cap"/>
<line x1="1716.5" y1="455.6" x2="1753.4" y2="455.6" class="wh"/>
<line x1="1752.3" y1="451" x2="1752.3" y2="460.2" class="cap"/>
<rect x="1716.5" y="469.2" width="14.1" height="13.2" class="bar"/>
<line x1="1716.5" y1="475.8" x2="1802.8" y2="475.8" class="wh"/>
<line x1="1801.7" y1="471.2" x2="1801.7" y2="480.4" class="cap"/>
<line x1="1716.5" y1="496" x2="1739" y2="496" class="wh"/>
<line x1="1737.9" y1="491.4" x2="1737.9" y2="500.6" class="cap"/>
<line x1="1716.5" y1="516.2" x2="1763.9" y2="516.2" class="wh"/>
<line x1="1762.8" y1="511.6" x2="1762.8" y2="520.8" class="cap"/>
<line x1="1716.5" y1="536.4" x2="1738.6" y2="536.4" class="wh"/>
<line x1="1737.5" y1="531.8" x2="1737.5" y2="541" class="cap"/>
<line x1="1716.5" y1="556.6" x2="1734.6" y2="556.6" class="wh"/>
<line x1="1733.5" y1="552" x2="1733.5" y2="561.2" class="cap"/>
<line x1="1716.5" y1="576.8" x2="1731.3" y2="576.8" class="wh"/>
<line x1="1730.2" y1="572.2" x2="1730.2" y2="581.4" class="cap"/>
<line x1="1716.5" y1="597" x2="1731.3" y2="597" class="wh"/>
<line x1="1730.2" y1="592.4" x2="1730.2" y2="601.6" class="cap"/>
<line x1="1716.5" y1="677.8" x2="1742.5" y2="677.8" class="wh"/>
<line x1="1741.4" y1="673.2" x2="1741.4" y2="682.4" class="cap"/>
<line x1="1716.5" y1="698" x2="1799.5" y2="698" class="wh"/>
<line x1="1798.4" y1="693.4" x2="1798.4" y2="702.6" class="cap"/>
<line x1="1816.9" y1="103.2" x2="1816.9" y2="711.5" class="dash"/>
<line x1="1716.5" y1="104" x2="1716.5" y2="708.2" class="ax"/>
<line x1="1715.4" y1="707" x2="2118.4" y2="707" class="ax"/>
<line x1="1716.5" y1="707" x2="1716.5" y2="716.2" class="tk"/>
<line x1="1731.73" y1="707" x2="1731.73" y2="713" class="tk"/>
<line x1="1745.51" y1="707" x2="1745.51" y2="713" class="tk"/>
<line x1="1758.09" y1="707" x2="1758.09" y2="713" class="tk"/>
<line x1="1769.66" y1="707" x2="1769.66" y2="713" class="tk"/>
<line x1="1780.37" y1="707" x2="1780.37" y2="713" class="tk"/>
<line x1="1790.34" y1="707" x2="1790.34" y2="713" class="tk"/>
<line x1="1799.67" y1="707" x2="1799.67" y2="713" class="tk"/>
<line x1="1808.44" y1="707" x2="1808.44" y2="713" class="tk"/>
<line x1="1816.7" y1="707" x2="1816.7" y2="716.2" class="tk"/>
<line x1="1831.93" y1="707" x2="1831.93" y2="713" class="tk"/>
<line x1="1845.71" y1="707" x2="1845.71" y2="713" class="tk"/>
<line x1="1858.29" y1="707" x2="1858.29" y2="713" class="tk"/>
<line x1="1869.86" y1="707" x2="1869.86" y2="713" class="tk"/>
<line x1="1880.57" y1="707" x2="1880.57" y2="713" class="tk"/>
<line x1="1890.54" y1="707" x2="1890.54" y2="713" class="tk"/>
<line x1="1899.87" y1="707" x2="1899.87" y2="713" class="tk"/>
<line x1="1908.64" y1="707" x2="1908.64" y2="713" class="tk"/>
<line x1="1916.9" y1="707" x2="1916.9" y2="716.2" class="tk"/>
<line x1="1932.13" y1="707" x2="1932.13" y2="713" class="tk"/>
<line x1="1945.91" y1="707" x2="1945.91" y2="713" class="tk"/>
<line x1="1958.49" y1="707" x2="1958.49" y2="713" class="tk"/>
<line x1="1970.06" y1="707" x2="1970.06" y2="713" class="tk"/>
<line x1="1980.77" y1="707" x2="1980.77" y2="713" class="tk"/>
<line x1="1990.74" y1="707" x2="1990.74" y2="713" class="tk"/>
<line x1="2000.07" y1="707" x2="2000.07" y2="713" class="tk"/>
<line x1="2008.84" y1="707" x2="2008.84" y2="713" class="tk"/>
<line x1="2017.1" y1="707" x2="2017.1" y2="716.2" class="tk"/>
<line x1="2032.33" y1="707" x2="2032.33" y2="713" class="tk"/>
<line x1="2046.11" y1="707" x2="2046.11" y2="713" class="tk"/>
<line x1="2058.69" y1="707" x2="2058.69" y2="713" class="tk"/>
<line x1="2070.26" y1="707" x2="2070.26" y2="713" class="tk"/>
<line x1="2080.97" y1="707" x2="2080.97" y2="713" class="tk"/>
<line x1="2090.94" y1="707" x2="2090.94" y2="713" class="tk"/>
<line x1="2100.27" y1="707" x2="2100.27" y2="713" class="tk"/>
<line x1="2109.04" y1="707" x2="2109.04" y2="713" class="tk"/>
<line x1="2117.3" y1="707" x2="2117.3" y2="716.2" class="tk"/>
<text transform="translate(1711.5 732.2) rotate(-45)" class="tl">1</text>
<text transform="translate(1812.7 733.3) rotate(-45)" class="tl">2</text>
<text transform="translate(1912.9 733.3) rotate(-45)" class="tl">4</text>
<text transform="translate(2013.1 733.3) rotate(-45)" class="tl">8</text>
<text transform="translate(2109 738) rotate(-45)" class="tl">16</text>
<rect x="2028.2" y="656" width="91.9" height="42.3" class="nb"/>
<text x="2033.55 2041.55 2059.6 2067.6 2083.5 2099.3" y="687.4" class="nt">N = 11</text>
<text x="1916.1" y="782.2" class="xt" textLength="229.5" lengthAdjust="spacing">Cytokine production</text>
<text x="1916.1" y="808.5" class="xt" textLength="229.5" lengthAdjust="spacing">[FC to unstimulated]</text>
<text x="171.3" y="965.5" class="lab">IL.7</text>
<text x="171.3" y="988.6" class="lab">TNF</text>
<text x="171.3" y="1011.7" class="lab">MIP.1a</text>
<text x="171.3" y="1034.8" class="lab">IL.10</text>
<text x="171.3" y="1057.9" class="lab">IL.6</text>
<text x="171.3" y="1081" class="lab">GM.CSF</text>
<text x="171.3" y="1104.1" class="lab">MIP.1b</text>
<text x="171.3" y="1127.2" class="lab">IL.12</text>
<text x="171.3" y="1150.3" class="lab">IL.8</text>
<text x="171.3" y="1173.4" class="lab">IL.15</text>
<text x="171.3" y="1196.5" class="lab">IL.13</text>
<text x="171.3" y="1219.6" class="lab">IL.1b</text>
<text x="171.3" y="1242.7" class="lab">HGF</text>
<text x="171.3" y="1265.8" class="lab">G.CSF</text>
<text x="171.3" y="1288.9" class="lab">FGF.basic</text>
<text x="171.3" y="1312" class="lab">RANTES</text>
<text x="171.3" y="1335.1" class="lab">IL.2R</text>
<text x="171.3" y="1358.2" class="lab">VEGF</text>
<text x="171.3" y="1381.3" class="lab">CCL2</text>
<text x="171.3" y="1404.4" class="lab">EGF</text>
<text x="171.3" y="1427.5" class="lab">IL.17</text>
<text x="171.3" y="1450.6" class="lab">IFN.a</text>
<text x="171.3" y="1473.7" class="lab">IFN.g</text>
<text x="171.3" y="1496.8" class="lab">IL.5</text>
<text x="171.3" y="1519.9" class="lab">IL.1RA</text>
<text x="171.3" y="1543" class="lab">CXCL10</text>
<line x1="276.7" y1="943" x2="276.7" y2="1551.7" class="dash"/>
<line x1="176.3" y1="958.3" x2="203.2" y2="958.3" class="wh"/>
<line x1="202.1" y1="953.7" x2="202.1" y2="962.9" class="cap"/>
<rect x="176.3" y="973.9" width="301.3" height="15" class="bar"/>
<line x1="243.5" y1="981.4" x2="574.7" y2="981.4" class="wh"/>
<line x1="573.6" y1="976.8" x2="573.6" y2="986" class="cap"/>
<line x1="244.6" y1="976.8" x2="244.6" y2="986" class="cap"/>
<rect x="176.3" y="997" width="205" height="15" class="bar"/>
<line x1="292.9" y1="1004.5" x2="528.7" y2="1004.5" class="wh"/>
<line x1="527.6" y1="999.9" x2="527.6" y2="1009.1" class="cap"/>
<line x1="294" y1="999.9" x2="294" y2="1009.1" class="cap"/>
<rect x="176.3" y="1020.1" width="79" height="15" class="bar"/>
<line x1="176.3" y1="1027.6" x2="385.8" y2="1027.6" class="wh"/>
<line x1="384.7" y1="1023" x2="384.7" y2="1032.2" class="cap"/>
<rect x="176.3" y="1043.2" width="81.9" height="15" class="bar"/>
<line x1="228.9" y1="1050.7" x2="509.5" y2="1050.7" class="wh"/>
<line x1="508.4" y1="1046.1" x2="508.4" y2="1055.3" class="cap"/>
<line x1="230" y1="1046.1" x2="230" y2="1055.3" class="cap"/>
<rect x="176.3" y="1066.3" width="131.9" height="15" class="bar"/>
<line x1="188.2" y1="1073.8" x2="540" y2="1073.8" class="wh"/>
<line x1="538.9" y1="1069.2" x2="538.9" y2="1078.4" class="cap"/>
<line x1="189.3" y1="1069.2" x2="189.3" y2="1078.4" class="cap"/>
<rect x="176.3" y="1089.4" width="123.4" height="15" class="bar"/>
<line x1="232.3" y1="1096.9" x2="375.9" y2="1096.9" class="wh"/>
<line x1="374.8" y1="1092.3" x2="374.8" y2="1101.5" class="cap"/>
<line x1="233.4" y1="1092.3" x2="233.4" y2="1101.5" class="cap"/>
<line x1="176.3" y1="1120" x2="516.2" y2="1120" class="wh"/>
<line x1="515.1" y1="1115.4" x2="515.1" y2="1124.6" class="cap"/>
<rect x="176.3" y="1135.6" width="59" height="15" class="bar"/>
<line x1="212.5" y1="1143.1" x2="365" y2="1143.1" class="wh"/>
<line x1="363.9" y1="1138.5" x2="363.9" y2="1147.7" class="cap"/>
<line x1="213.6" y1="1138.5" x2="213.6" y2="1147.7" class="cap"/>
<line x1="176.3" y1="1166.2" x2="236.8" y2="1166.2" class="wh"/>
<line x1="235.7" y1="1161.6" x2="235.7" y2="1170.8" class="cap"/>
<rect x="176.3" y="1181.8" width="16.1" height="15" class="bar"/>
<line x1="176.3" y1="1189.3" x2="246.1" y2="1189.3" class="wh"/>
<line x1="245" y1="1184.7" x2="245" y2="1193.9" class="cap"/>
<rect x="176.3" y="1204.9" width="14.1" height="15" class="bar"/>
<line x1="176.3" y1="1212.4" x2="380.1" y2="1212.4" class="wh"/>
<line x1="379" y1="1207.8" x2="379" y2="1217" class="cap"/>
<rect x="176.3" y="1228" width="68.1" height="15" class="bar"/>
<line x1="176.3" y1="1235.5" x2="358.7" y2="1235.5" class="wh"/>
<line x1="357.6" y1="1230.9" x2="357.6" y2="1240.1" class="cap"/>
<line x1="176.3" y1="1258.6" x2="210.9" y2="1258.6" class="wh"/>
<line x1="209.8" y1="1254" x2="209.8" y2="1263.2" class="cap"/>
<rect x="176.3" y="1274.2" width="21.2" height="15" class="bar"/>
<line x1="176.3" y1="1281.7" x2="422.6" y2="1281.7" class="wh"/>
<line x1="421.5" y1="1277.1" x2="421.5" y2="1286.3" class="cap"/>
<rect x="176.3" y="1297.3" width="18.7" height="15" class="bar"/>
<line x1="176.3" y1="1304.8" x2="244.5" y2="1304.8" class="wh"/>
<line x1="243.4" y1="1300.2" x2="243.4" y2="1309.4" class="cap"/>
<rect x="176.3" y="1320.4" width="104.1" height="15" class="bar"/>
<line x1="176.3" y1="1327.9" x2="328.7" y2="1327.9" class="wh"/>
<line x1="327.6" y1="1323.3" x2="327.6" y2="1332.5" class="cap"/>
<rect x="176.3" y="1343.5" width="35.5" height="15" class="bar"/>
<line x1="176.3" y1="1351" x2="262.9" y2="1351" class="wh"/>
<line x1="261.8" y1="1346.4" x2="261.8" y2="1355.6" class="cap"/>
<rect x="176.3" y="1366.6" width="52.3" height="15" class="bar"/>
<line x1="195.3" y1="1374.1" x2="266.4" y2="1374.1" class="wh"/>
<line x1="265.3" y1="1369.5" x2="265.3" y2="1378.7" class="cap"/>
<line x1="196.4" y1="1369.5" x2="196.4" y2="1378.7" class="cap"/>
<rect x="176.3" y="1389.7" width="37.5" height="15" class="bar"/>
<line x1="201.2" y1="1397.2" x2="269.8" y2="1397.2" class="wh"/>
<line x1="268.7" y1="1392.6" x2="268.7" y2="1401.8" class="cap"/>
<line x1="202.3" y1="1392.6" x2="202.3" y2="1401.8" class="cap"/>
<line x1="176.3" y1="1420.3" x2="578.1" y2="1420.3" class="wh"/>
<line x1="176.3" y1="1443.4" x2="216" y2="1443.4" class="wh"/>
<line x1="214.9" y1="1438.8" x2="214.9" y2="1448" class="cap"/>
<rect x="176.3" y="1459" width="18.7" height="15" class="bar"/>
<line x1="176.3" y1="1466.5" x2="227.7" y2="1466.5" class="wh"/>
<line x1="226.6" y1="1461.9" x2="226.6" y2="1471.1" class="cap"/>
<line x1="176.3" y1="1489.6" x2="268.8" y2="1489.6" class="wh"/>
<line x1="267.7" y1="1485" x2="267.7" y2="1494.2" class="cap"/>
<rect x="176.3" y="1505.2" width="2.3" height="15" class="bar"/>
<line x1="176.3" y1="1512.7" x2="204.6" y2="1512.7" class="wh"/>
<line x1="203.5" y1="1508.1" x2="203.5" y2="1517.3" class="cap"/>
<rect x="176.3" y="1528.3" width="0.5" height="15" class="bar"/>
<line x1="176.3" y1="1535.8" x2="246.7" y2="1535.8" class="wh"/>
<line x1="245.6" y1="1531.2" x2="245.6" y2="1540.4" class="cap"/>
<line x1="176.3" y1="944.4" x2="176.3" y2="1548.4" class="ax"/>
<line x1="175.2" y1="1547.2" x2="578.2" y2="1547.2" class="ax"/>
<line x1="176.3" y1="1547.2" x2="176.3" y2="1556.4" class="tk"/>
<line x1="191.53" y1="1547.2" x2="191.53" y2="1553.2" class="tk"/>
<line x1="205.31" y1="1547.2" x2="205.31" y2="1553.2" class="tk"/>
<line x1="217.89" y1="1547.2" x2="217.89" y2="1553.2" class="tk"/>
<line x1="229.46" y1="1547.2" x2="229.46" y2="1553.2" class="tk"/>
<line x1="240.17" y1="1547.2" x2="240.17" y2="1553.2" class="tk"/>
<line x1="250.14" y1="1547.2" x2="250.14" y2="1553.2" class="tk"/>
<line x1="259.47" y1="1547.2" x2="259.47" y2="1553.2" class="tk"/>
<line x1="268.24" y1="1547.2" x2="268.24" y2="1553.2" class="tk"/>
<line x1="276.5" y1="1547.2" x2="276.5" y2="1556.4" class="tk"/>
<line x1="291.73" y1="1547.2" x2="291.73" y2="1553.2" class="tk"/>
<line x1="305.51" y1="1547.2" x2="305.51" y2="1553.2" class="tk"/>
<line x1="318.09" y1="1547.2" x2="318.09" y2="1553.2" class="tk"/>
<line x1="329.66" y1="1547.2" x2="329.66" y2="1553.2" class="tk"/>
<line x1="340.37" y1="1547.2" x2="340.37" y2="1553.2" class="tk"/>
<line x1="350.34" y1="1547.2" x2="350.34" y2="1553.2" class="tk"/>
<line x1="359.67" y1="1547.2" x2="359.67" y2="1553.2" class="tk"/>
<line x1="368.44" y1="1547.2" x2="368.44" y2="1553.2" class="tk"/>
<line x1="376.7" y1="1547.2" x2="376.7" y2="1556.4" class="tk"/>
<line x1="391.93" y1="1547.2" x2="391.93" y2="1553.2" class="tk"/>
<line x1="405.71" y1="1547.2" x2="405.71" y2="1553.2" class="tk"/>
<line x1="418.29" y1="1547.2" x2="418.29" y2="1553.2" class="tk"/>
<line x1="429.86" y1="1547.2" x2="429.86" y2="1553.2" class="tk"/>
<line x1="440.57" y1="1547.2" x2="440.57" y2="1553.2" class="tk"/>
<line x1="450.54" y1="1547.2" x2="450.54" y2="1553.2" class="tk"/>
<line x1="459.87" y1="1547.2" x2="459.87" y2="1553.2" class="tk"/>
<line x1="468.64" y1="1547.2" x2="468.64" y2="1553.2" class="tk"/>
<line x1="476.9" y1="1547.2" x2="476.9" y2="1556.4" class="tk"/>
<line x1="492.13" y1="1547.2" x2="492.13" y2="1553.2" class="tk"/>
<line x1="505.91" y1="1547.2" x2="505.91" y2="1553.2" class="tk"/>
<line x1="518.49" y1="1547.2" x2="518.49" y2="1553.2" class="tk"/>
<line x1="530.06" y1="1547.2" x2="530.06" y2="1553.2" class="tk"/>
<line x1="540.77" y1="1547.2" x2="540.77" y2="1553.2" class="tk"/>
<line x1="550.74" y1="1547.2" x2="550.74" y2="1553.2" class="tk"/>
<line x1="560.07" y1="1547.2" x2="560.07" y2="1553.2" class="tk"/>
<line x1="568.84" y1="1547.2" x2="568.84" y2="1553.2" class="tk"/>
<line x1="577.1" y1="1547.2" x2="577.1" y2="1556.4" class="tk"/>
<text transform="translate(171.3 1572.4) rotate(-45)" class="tl">1</text>
<text transform="translate(272.5 1573.5) rotate(-45)" class="tl">2</text>
<text transform="translate(372.7 1573.5) rotate(-45)" class="tl">4</text>
<text transform="translate(472.9 1573.5) rotate(-45)" class="tl">8</text>
<text transform="translate(568.8 1578.2) rotate(-45)" class="tl">16</text>
<rect x="487.6" y="1495.8" width="76.3" height="42.9" class="nb"/>
<text x="493.35 501.35 519.3 527.3 542.1" y="1527.8" class="nt">N = 9</text>
<text x="375.9" y="1622.4" class="xt" textLength="229.5" lengthAdjust="spacing">Cytokine production</text>
<text x="375.9" y="1648.7" class="xt" textLength="229.5" lengthAdjust="spacing">[FC to unstimulated]</text>
<text x="689.4" y="965.5" class="lab">IL.7</text>
<text x="689.4" y="988.6" class="lab">TNF</text>
<text x="689.4" y="1011.7" class="lab">MIP.1a</text>
<text x="689.4" y="1034.8" class="lab">IL.10</text>
<text x="689.4" y="1057.9" class="lab">IL.6</text>
<text x="689.4" y="1081" class="lab">GM.CSF</text>
<text x="689.4" y="1104.1" class="lab">MIP.1b</text>
<text x="689.4" y="1127.2" class="lab">IL.12</text>
<text x="689.4" y="1150.3" class="lab">IL.8</text>
<text x="689.4" y="1173.4" class="lab">IL.15</text>
<text x="689.4" y="1196.5" class="lab">IL.13</text>
<text x="689.4" y="1219.6" class="lab">IL.1b</text>
<text x="689.4" y="1242.7" class="lab">HGF</text>
<text x="689.4" y="1265.8" class="lab">G.CSF</text>
<text x="689.4" y="1288.9" class="lab">FGF.basic</text>
<text x="689.4" y="1312" class="lab">RANTES</text>
<text x="689.4" y="1335.1" class="lab">IL.2R</text>
<text x="689.4" y="1358.2" class="lab">VEGF</text>
<text x="689.4" y="1381.3" class="lab">CCL2</text>
<text x="689.4" y="1404.4" class="lab">EGF</text>
<text x="689.4" y="1427.5" class="lab">IL.17</text>
<text x="689.4" y="1450.6" class="lab">IFN.a</text>
<text x="689.4" y="1473.7" class="lab">IFN.g</text>
<text x="689.4" y="1496.8" class="lab">IL.5</text>
<text x="689.4" y="1519.9" class="lab">IL.1RA</text>
<text x="689.4" y="1543" class="lab">CXCL10</text>
<line x1="794.8" y1="943" x2="794.8" y2="1551.7" class="dash"/>
<rect x="694.4" y="973.9" width="74.5" height="15" class="bar"/>
<line x1="694.4" y1="981.4" x2="888.6" y2="981.4" class="wh"/>
<line x1="887.5" y1="976.8" x2="887.5" y2="986" class="cap"/>
<rect x="694.4" y="997" width="155.5" height="15" class="bar"/>
<line x1="694.4" y1="1004.5" x2="938.6" y2="1004.5" class="wh"/>
<line x1="937.5" y1="999.9" x2="937.5" y2="1009.1" class="cap"/>
<line x1="694.4" y1="1027.6" x2="726.5" y2="1027.6" class="wh"/>
<line x1="725.4" y1="1023" x2="725.4" y2="1032.2" class="cap"/>
<rect x="694.4" y="1043.2" width="79.3" height="15" class="bar"/>
<line x1="694.4" y1="1050.7" x2="856" y2="1050.7" class="wh"/>
<line x1="854.9" y1="1046.1" x2="854.9" y2="1055.3" class="cap"/>
<rect x="694.4" y="1066.3" width="52.8" height="15" class="bar"/>
<line x1="696.9" y1="1073.8" x2="999.3" y2="1073.8" class="wh"/>
<line x1="998.2" y1="1069.2" x2="998.2" y2="1078.4" class="cap"/>
<line x1="698" y1="1069.2" x2="698" y2="1078.4" class="cap"/>
<rect x="694.4" y="1089.4" width="71.3" height="15" class="bar"/>
<line x1="694.4" y1="1096.9" x2="801.2" y2="1096.9" class="wh"/>
<line x1="800.1" y1="1092.3" x2="800.1" y2="1101.5" class="cap"/>
<line x1="694.4" y1="1120" x2="730.5" y2="1120" class="wh"/>
<line x1="729.4" y1="1115.4" x2="729.4" y2="1124.6" class="cap"/>
<rect x="694.4" y="1135.6" width="31.8" height="15" class="bar"/>
<line x1="694.4" y1="1143.1" x2="802" y2="1143.1" class="wh"/>
<line x1="800.9" y1="1138.5" x2="800.9" y2="1147.7" class="cap"/>
<rect x="694.4" y="1158.7" width="10.1" height="15" class="bar"/>
<line x1="694.4" y1="1166.2" x2="757.6" y2="1166.2" class="wh"/>
<line x1="756.5" y1="1161.6" x2="756.5" y2="1170.8" class="cap"/>
<line x1="694.4" y1="1189.3" x2="807.2" y2="1189.3" class="wh"/>
<line x1="806.1" y1="1184.7" x2="806.1" y2="1193.9" class="cap"/>
<line x1="694.4" y1="1212.4" x2="710.1" y2="1212.4" class="wh"/>
<line x1="709" y1="1207.8" x2="709" y2="1217" class="cap"/>
<line x1="694.4" y1="1235.5" x2="759.1" y2="1235.5" class="wh"/>
<line x1="758" y1="1230.9" x2="758" y2="1240.1" class="cap"/>
<line x1="694.4" y1="1258.6" x2="742.7" y2="1258.6" class="wh"/>
<line x1="741.6" y1="1254" x2="741.6" y2="1263.2" class="cap"/>
<rect x="694.4" y="1274.2" width="25.9" height="15" class="bar"/>
<line x1="694.4" y1="1281.7" x2="761.5" y2="1281.7" class="wh"/>
<line x1="760.4" y1="1277.1" x2="760.4" y2="1286.3" class="cap"/>
<line x1="694.4" y1="1327.9" x2="728.5" y2="1327.9" class="wh"/>
<line x1="727.4" y1="1323.3" x2="727.4" y2="1332.5" class="cap"/>
<line x1="694.4" y1="1351" x2="712.1" y2="1351" class="wh"/>
<line x1="711" y1="1346.4" x2="711" y2="1355.6" class="cap"/>
<line x1="694.4" y1="1374.1" x2="739.4" y2="1374.1" class="wh"/>
<line x1="738.3" y1="1369.5" x2="738.3" y2="1378.7" class="cap"/>
<line x1="694.4" y1="1397.2" x2="700.3" y2="1397.2" class="wh"/>
<line x1="699.2" y1="1392.6" x2="699.2" y2="1401.8" class="cap"/>
<line x1="694.4" y1="1420.3" x2="764.7" y2="1420.3" class="wh"/>
<line x1="763.6" y1="1415.7" x2="763.6" y2="1424.9" class="cap"/>
<rect x="694.4" y="1435.9" width="8.1" height="15" class="bar"/>
<line x1="694.4" y1="1443.4" x2="711.3" y2="1443.4" class="wh"/>
<line x1="710.2" y1="1438.8" x2="710.2" y2="1448" class="cap"/>
<line x1="694.4" y1="1466.5" x2="729.5" y2="1466.5" class="wh"/>
<line x1="728.4" y1="1461.9" x2="728.4" y2="1471.1" class="cap"/>
<line x1="694.4" y1="1489.6" x2="838.6" y2="1489.6" class="wh"/>
<line x1="837.5" y1="1485" x2="837.5" y2="1494.2" class="cap"/>
<rect x="694.4" y="1505.2" width="6.7" height="15" class="bar"/>
<line x1="694.4" y1="1512.7" x2="703" y2="1512.7" class="wh"/>
<line x1="701.9" y1="1508.1" x2="701.9" y2="1517.3" class="cap"/>
<line x1="694.4" y1="1535.8" x2="698.9" y2="1535.8" class="wh"/>
<line x1="697.8" y1="1531.2" x2="697.8" y2="1540.4" class="cap"/>
<line x1="694.4" y1="944.4" x2="694.4" y2="1548.4" class="ax"/>
<line x1="693.3" y1="1547.2" x2="1096.3" y2="1547.2" class="ax"/>
<line x1="694.4" y1="1547.2" x2="694.4" y2="1556.4" class="tk"/>
<line x1="709.63" y1="1547.2" x2="709.63" y2="1553.2" class="tk"/>
<line x1="723.41" y1="1547.2" x2="723.41" y2="1553.2" class="tk"/>
<line x1="735.99" y1="1547.2" x2="735.99" y2="1553.2" class="tk"/>
<line x1="747.56" y1="1547.2" x2="747.56" y2="1553.2" class="tk"/>
<line x1="758.27" y1="1547.2" x2="758.27" y2="1553.2" class="tk"/>
<line x1="768.24" y1="1547.2" x2="768.24" y2="1553.2" class="tk"/>
<line x1="777.57" y1="1547.2" x2="777.57" y2="1553.2" class="tk"/>
<line x1="786.34" y1="1547.2" x2="786.34" y2="1553.2" class="tk"/>
<line x1="794.6" y1="1547.2" x2="794.6" y2="1556.4" class="tk"/>
<line x1="809.83" y1="1547.2" x2="809.83" y2="1553.2" class="tk"/>
<line x1="823.61" y1="1547.2" x2="823.61" y2="1553.2" class="tk"/>
<line x1="836.19" y1="1547.2" x2="836.19" y2="1553.2" class="tk"/>
<line x1="847.76" y1="1547.2" x2="847.76" y2="1553.2" class="tk"/>
<line x1="858.47" y1="1547.2" x2="858.47" y2="1553.2" class="tk"/>
<line x1="868.44" y1="1547.2" x2="868.44" y2="1553.2" class="tk"/>
<line x1="877.77" y1="1547.2" x2="877.77" y2="1553.2" class="tk"/>
<line x1="886.54" y1="1547.2" x2="886.54" y2="1553.2" class="tk"/>
<line x1="894.8" y1="1547.2" x2="894.8" y2="1556.4" class="tk"/>
<line x1="910.03" y1="1547.2" x2="910.03" y2="1553.2" class="tk"/>
<line x1="923.81" y1="1547.2" x2="923.81" y2="1553.2" class="tk"/>
<line x1="936.39" y1="1547.2" x2="936.39" y2="1553.2" class="tk"/>
<line x1="947.96" y1="1547.2" x2="947.96" y2="1553.2" class="tk"/>
<line x1="958.67" y1="1547.2" x2="958.67" y2="1553.2" class="tk"/>
<line x1="968.64" y1="1547.2" x2="968.64" y2="1553.2" class="tk"/>
<line x1="977.97" y1="1547.2" x2="977.97" y2="1553.2" class="tk"/>
<line x1="986.74" y1="1547.2" x2="986.74" y2="1553.2" class="tk"/>
<line x1="995" y1="1547.2" x2="995" y2="1556.4" class="tk"/>
<line x1="1010.23" y1="1547.2" x2="1010.23" y2="1553.2" class="tk"/>
<line x1="1024.01" y1="1547.2" x2="1024.01" y2="1553.2" class="tk"/>
<line x1="1036.59" y1="1547.2" x2="1036.59" y2="1553.2" class="tk"/>
<line x1="1048.16" y1="1547.2" x2="1048.16" y2="1553.2" class="tk"/>
<line x1="1058.87" y1="1547.2" x2="1058.87" y2="1553.2" class="tk"/>
<line x1="1068.84" y1="1547.2" x2="1068.84" y2="1553.2" class="tk"/>
<line x1="1078.17" y1="1547.2" x2="1078.17" y2="1553.2" class="tk"/>
<line x1="1086.94" y1="1547.2" x2="1086.94" y2="1553.2" class="tk"/>
<line x1="1095.2" y1="1547.2" x2="1095.2" y2="1556.4" class="tk"/>
<text transform="translate(689.4 1572.4) rotate(-45)" class="tl">1</text>
<text transform="translate(790.6 1573.5) rotate(-45)" class="tl">2</text>
<text transform="translate(890.8 1573.5) rotate(-45)" class="tl">4</text>
<text transform="translate(991 1573.5) rotate(-45)" class="tl">8</text>
<text transform="translate(1086.9 1578.2) rotate(-45)" class="tl">16</text>
<rect x="1005.6" y="1495.8" width="76.4" height="42.9" class="nb"/>
<text x="1010.95 1018.95 1037.3 1045.3 1060.2" y="1527.9" class="nt">N = 5</text>
<text x="894" y="1622.4" class="xt" textLength="229.5" lengthAdjust="spacing">Cytokine production</text>
<text x="894" y="1648.7" class="xt" textLength="229.5" lengthAdjust="spacing">[FC to unstimulated]</text>
<text x="1077.5" y="147.1" class="ast">*</text>
<text x="1077.5" y="166.4" class="ast">*</text>
<text x="1077.5" y="185.3" class="ast">*</text>
<text x="1077.5" y="205.5" class="ast">*</text>
<text x="1077.5" y="224.8" class="ast">*</text>
<text x="1577.5" y="206.1" class="ast">*</text>
</svg>
</body></html>
